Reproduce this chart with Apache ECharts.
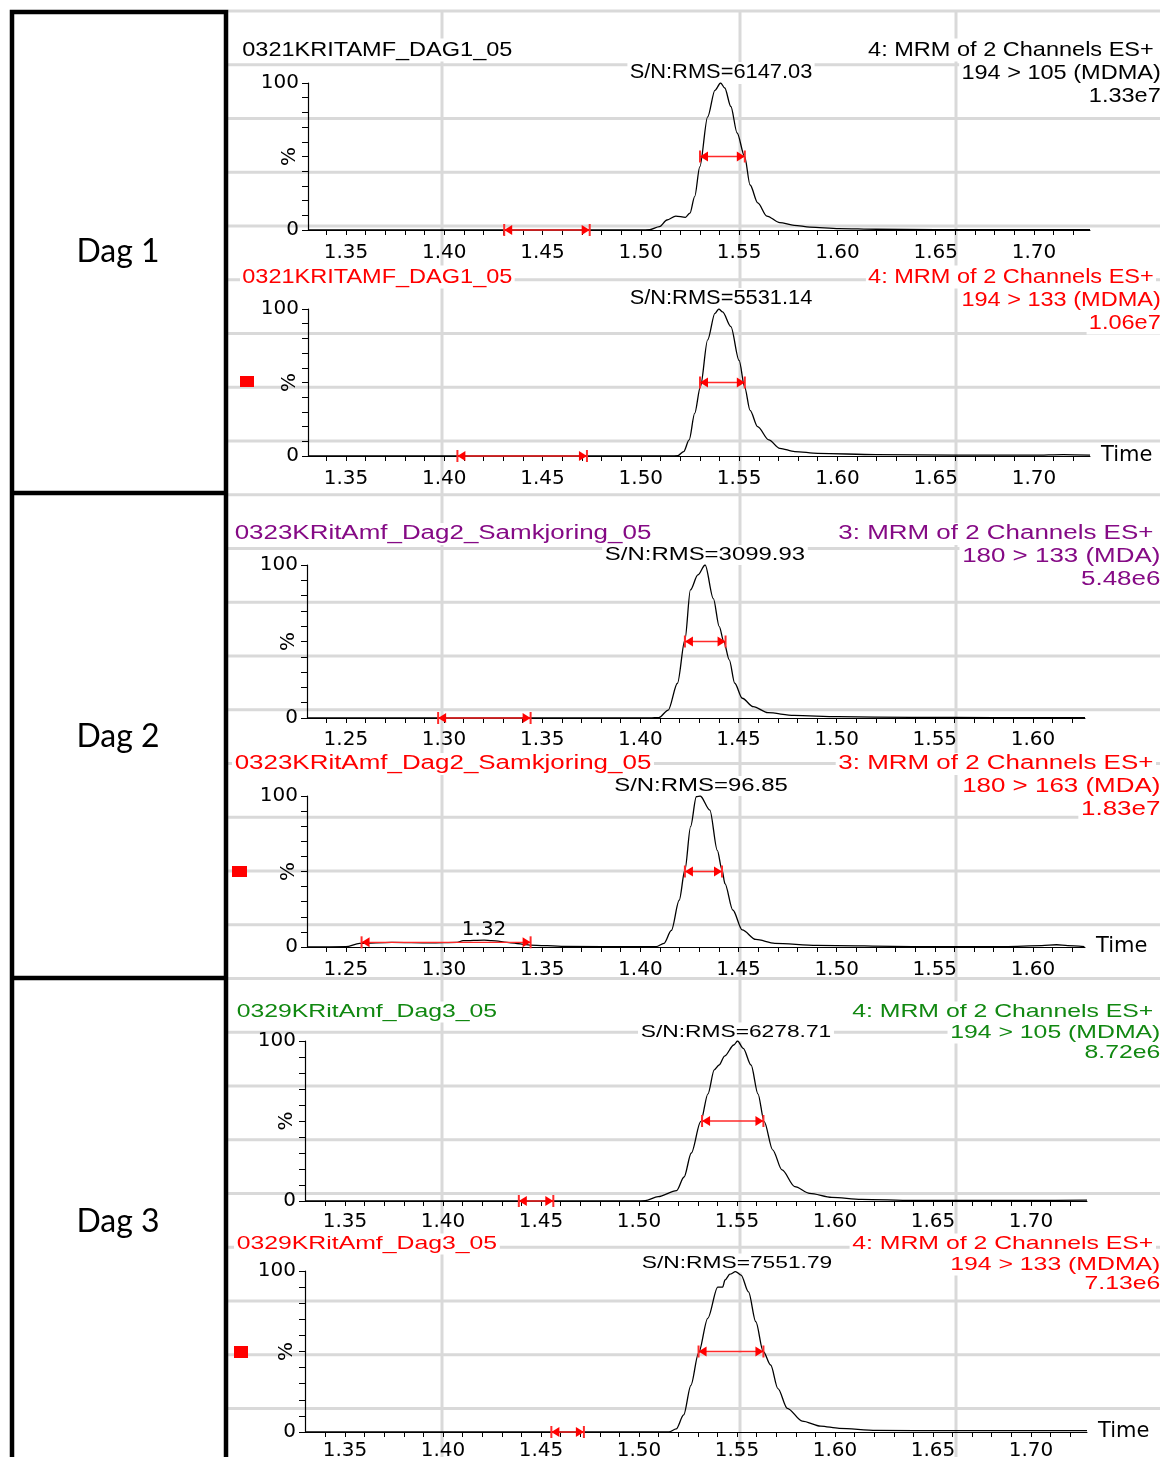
<!DOCTYPE html>
<html lang="no">
<head>
<meta charset="UTF-8">
<title>MRM kromatogrammer Dag 1-3</title>
<script src="https://cdn.jsdelivr.net/npm/echarts@6/dist/echarts.min.js"></script>
<style>
    html, body { margin: 0; padding: 0; background: #fff; }
    #main { width: 1160px; height: 1457px; }
</style>
</head>
<body>
<div id="main"></div>
<script type="text/javascript">
    // ---- data: [time (min), intensity (%)] ----
    var dag1Ch105 = [[1.3307,0],[1.4600,0],[1.5000,0],[1.5045,0.3],[1.5095,2.3],[1.5133,6.8],[1.5178,9.5],[1.5227,8.6],
        [1.5250,11.5],[1.5274,22.7],[1.5300,43],[1.5340,77],[1.5377,95],[1.5406,100],[1.5427,96.6],[1.5458,84],
        [1.5490,66],[1.5528,50],[1.5556,30.6],[1.5595,18.4],[1.5641,9.5],[1.5707,5],[1.5780,3.2],[1.5860,2],
        [1.6008,0.9],[1.6200,0.5],[1.6500,0.3],[1.7000,0.2],[1.7285,0.2]];
    var dag1Ch133 = [[1.3307,0],[1.4600,0],[1.5150,0],[1.5189,0.3],[1.5218,3],[1.5246,11],[1.5274,29],[1.5303,47],
        [1.5340,79],[1.5377,97],[1.5397,100],[1.5416,98],[1.5458,88],[1.5500,65],[1.5528,47],[1.5556,31],
        [1.5594,20],[1.5651,11],[1.5707,5.2],[1.5783,3],[1.5900,1.8],[1.6196,0.9],[1.6600,0.6],[1.7000,0.6],
        [1.7150,1.0],[1.7285,0.6]];
    var dag2Ch133 = [[1.2302,0],[1.3500,0],[1.4050,0],[1.4095,0.3],[1.4142,5.2],[1.4189,22.7],[1.4227,51],[1.4255,83.7],
        [1.4293,93.5],[1.4330,100],[1.4372,78],[1.4402,59.7],[1.4425,50],[1.4453,38],[1.4481,22.7],[1.4519,12.9],
        [1.4575,7.4],[1.4650,3.5],[1.4782,1.7],[1.5008,0.85],[1.5380,0.4],[1.5800,0.3],[1.6265,0.2]];
    var dag2Ch163 = [[1.2307,0],[1.2500,0.2],[1.2570,2.4],[1.2734,3.1],[1.2931,2.8],[1.3067,3.1],[1.3097,4.2],[1.3204,4.6],
        [1.3243,4.2],[1.3340,2.8],[1.3437,1.3],[1.3614,0.4],[1.4000,0.2],[1.4081,0.2],[1.4120,2.4],[1.4158,11],
        [1.4198,31],[1.4227,51],[1.4256,79.7],[1.4285,99.5],[1.4305,100],[1.4354,90.7],[1.4392,64],[1.4416,51],
        [1.4431,42],[1.4471,24.5],[1.4519,11.3],[1.4588,5],[1.4685,2.4],[1.4899,1.1],[1.5384,0.3],[1.5856,0.3],
        [1.6045,0.9],[1.6120,1.5],[1.6177,0.9],[1.6262,0.3]];
    var dag3Ch105 = [[1.3296,0],[1.4500,0],[1.4985,0],[1.5032,0.2],[1.5098,2.7],[1.5192,6.5],[1.5230,15],[1.5267,30],
        [1.5315,49.6],[1.5352,67],[1.5384,82],[1.5409,85],[1.5437,90.6],[1.5484,97.5],[1.5503,100],[1.5532,95.4],
        [1.5572,85],[1.5607,67],[1.5639,49.6],[1.5682,32],[1.5730,19.4],[1.5795,9],[1.5871,4.8],[1.5984,2.3],
        [1.6135,1],[1.6399,0.3],[1.7000,0.3],[1.7286,0.5]];
    var dag3Ch133 = [[1.3296,0],[1.4500,0],[1.5153,0],[1.5190,1.9],[1.5228,10.6],[1.5265,29],[1.5304,49],[1.5351,70.6],
        [1.5402,90],[1.5427,90],[1.5439,94.4],[1.5464,98],[1.5493,99.6],[1.5521,97.5],[1.5559,87],[1.5596,68.5],
        [1.5634,50],[1.5672,41.6],[1.5709,27],[1.5757,14.7],[1.5833,6.8],[1.5927,3.7],[1.6022,2.3],[1.6211,1],
        [1.6600,0.8],[1.7286,0.8]];

    // integration markers: [start, end, level %] (peak width at half height, noise window)
    var dag1Ch105Marks = [[1.5301, 1.5529, 50], [1.4305, 1.4740, 0]];
    var dag1Ch133Marks = [[1.5301, 1.5529, 50], [1.4067, 1.4726, 0]];
    var dag2Ch133Marks = [[1.4227, 1.4434, 50], [1.2970, 1.3441, 0]];
    var dag2Ch163Marks = [[1.4227, 1.4416, 50], [1.2580, 1.3441, 3.1]];
    var dag3Ch105Marks = [[1.5322, 1.5635, 50], [1.4387, 1.4563, 0]];
    var dag3Ch133Marks = [[1.5304, 1.5635, 50], [1.4553, 1.4719, 0]];
    var dag2SmallPeak = [1.3204, 4.6];

    // texts
    var dayLabels = ['Dag 1', 'Dag 2', 'Dag 3'];
    var sampleNames = ['0321KRITAMF_DAG1_05', '0321KRITAMF_DAG1_05', '0323KRitAmf_Dag2_Samkjoring_05',
        '0323KRitAmf_Dag2_Samkjoring_05', '0329KRitAmf_Dag3_05', '0329KRitAmf_Dag3_05'];
    var functionNames = ['4: MRM of 2 Channels ES+', '4: MRM of 2 Channels ES+', '3: MRM of 2 Channels ES+',
        '3: MRM of 2 Channels ES+', '4: MRM of 2 Channels ES+', '4: MRM of 2 Channels ES+'];
    var transitions = ['194 > 105 (MDMA)', '194 > 133 (MDMA)', '180 > 133 (MDA)', '180 > 163 (MDA)',
        '194 > 105 (MDMA)', '194 > 133 (MDMA)'];
    var intensities = ['1.33e7', '1.06e7', '5.48e6', '1.83e7', '8.72e6', '7.13e6'];
    var snValues = ['6147.03', '5531.14', '3099.93', '96.85', '6278.71', '7551.79'];

    // tick labels
    var xLabelsA = [1.35, 1.40, 1.45, 1.50, 1.55, 1.60, 1.65, 1.70];
    var xLabelsB = [1.25, 1.30, 1.35, 1.40, 1.45, 1.50, 1.55, 1.60];
    var yLabels = [0, 100];

    function steps(a, b, s) {
        var out = [];
        for (var v = a; v <= b + 1e-9; v += s) out.push(Math.round(v * 100) / 100);
        return out;
    }
    var xTicksA = steps(1.34, 1.72, 0.01);
    var xTicksB = steps(1.24, 1.62, 0.01);
    var yTicks = steps(0, 100, 10);

    var traces = [dag1Ch105, dag1Ch133, dag2Ch133, dag2Ch163, dag3Ch105, dag3Ch133];
    var marks = [dag1Ch105Marks, dag1Ch133Marks, dag2Ch133Marks, dag2Ch163Marks, dag3Ch105Marks, dag3Ch133Marks];

    // ---- layout (pixels) ----
    var RED = '#ff0000';
    var hdrColors = ['#000000', RED, '#850a85', RED, '#118811', RED];
    var layout = [
        {l: 308, t: 83,   r: 1090, b: 230,  xMin: 1.3307, xMax: 1.7285, lab: xLabelsA, tick: xTicksA, lm: 13, hx: 240, rows: [49, 72, 95],       snX: 721, snY: 72,   fs: 21,   sx: 1.12, snFs: 19.5, time: false},
        {l: 308, t: 309,  r: 1090, b: 456,  xMin: 1.3307, xMax: 1.7285, lab: xLabelsA, tick: xTicksA, lm: 13, hx: 240, rows: [276, 299, 322],    snX: 721, snY: 298,  fs: 21,   sx: 1.12, snFs: 19.5, time: true, sq: [240, 376, 14, 11]},
        {l: 307, t: 565,  r: 1085, b: 718,  xMin: 1.2302, xMax: 1.6265, lab: xLabelsB, tick: xTicksB, lm: 12, hx: 232, rows: [533, 556, 579],    snX: 705, snY: 554,  fs: 19.5, sx: 1.33, snFs: 18,   time: false},
        {l: 307, t: 796,  r: 1085, b: 947,  xMin: 1.2302, xMax: 1.6265, lab: xLabelsB, tick: xTicksB, lm: 13, hx: 232, rows: [763, 786, 809],    snX: 701, snY: 785,  fs: 19.5, sx: 1.33, snFs: 18,   time: true, sq: [232, 866, 15, 11]},
        {l: 305, t: 1041, r: 1087, b: 1201, xMin: 1.3296, xMax: 1.7286, lab: xLabelsA, tick: xTicksA, lm: 11, hx: 234, rows: [1011, 1032, 1052], snX: 736, snY: 1031, fs: 18.5, sx: 1.34, snFs: 17,   time: false},
        {l: 305, t: 1271, r: 1087, b: 1432, xMin: 1.3296, xMax: 1.7286, lab: xLabelsA, tick: xTicksA, lm: 9,  hx: 234, rows: [1243, 1264, 1283], snX: 737, snY: 1262, fs: 18.5, sx: 1.34, snFs: 17,   time: true, sq: [234, 1346, 14, 12]}
    ];

    var AXFONT = '"DejaVu Sans", sans-serif';
    var HDRFONT = '"Liberation Sans", Arial, sans-serif';

    function hdrText(txt, x, y, align, size, sx, color) {
        return {
            type: 'text', x: x, y: y, scaleX: sx, z: 1, silent: true,
            style: {
                text: txt, fill: color, font: size + 'px ' + HDRFONT,
                align: align, verticalAlign: 'middle',
                backgroundColor: '#fff', padding: [1, 2, 1, 2]
            }
        };
    }

    function renderMarker(params, api) {
        var a = api.coord([api.value(0), api.value(2)]);
        var b = api.coord([api.value(1), api.value(2)]);
        var h = 6, aw = 8, ah = 5;
        var ln = {stroke: '#ff2a2a', lineWidth: 1.3};
        var bar = {stroke: '#ff2a2a', lineWidth: 2};
        return {
            type: 'group',
            children: [
                {type: 'line', shape: {x1: a[0], y1: a[1], x2: b[0], y2: b[1]}, style: ln},
                {type: 'line', shape: {x1: a[0], y1: a[1] - h, x2: a[0], y2: a[1] + h}, style: bar},
                {type: 'line', shape: {x1: b[0], y1: b[1] - h, x2: b[0], y2: b[1] + h}, style: bar},
                {type: 'polygon', shape: {points: [[a[0], a[1]], [a[0] + aw, a[1] - ah], [a[0] + aw, a[1] + ah]]}, style: {fill: RED}},
                {type: 'polygon', shape: {points: [[b[0], b[1]], [b[0] - aw, b[1] - ah], [b[0] - aw, b[1] + ah]]}, style: {fill: RED}}
            ]
        };
    }

    var grids = [], xAxes = [], yAxes = [], series = [], graphics = [];

    // light grey cell lines behind the pasted chromatograms
    for (var k = 0; k < 27; k++) {
        var gy = 11 + k * 53.75;
        graphics.push({type: 'line', z: -1, silent: true, shape: {x1: 228, y1: gy, x2: 1160, y2: gy},
            style: {stroke: '#d9d9d9', lineWidth: 3}});
    }
    [442, 740, 956].forEach(function (gx) {
        graphics.push({type: 'line', z: -1, silent: true, shape: {x1: gx, y1: 11, x2: gx, y2: 1457},
            style: {stroke: '#d9d9d9', lineWidth: 3}});
    });

    // left table with day labels
    graphics.push({type: 'rect', z: 0, silent: true, shape: {x: 12, y: 12, width: 214, height: 1470},
        style: {fill: '#fff', stroke: '#000', lineWidth: 4.5}});
    [493, 978].forEach(function (sy) {
        graphics.push({type: 'line', z: 0, silent: true, shape: {x1: 12, y1: sy, x2: 226, y2: sy},
            style: {stroke: '#000', lineWidth: 4.5}});
    });
    [252, 737, 1222].forEach(function (dy, i) {
        graphics.push({type: 'text', x: 118, y: dy, z: 1, silent: true,
            style: {text: dayLabels[i], font: '32px Lato, sans-serif', fill: '#000', align: 'center', verticalAlign: 'middle'}});
    });

    layout.forEach(function (L, i) {
        grids.push({left: L.l, top: L.t, width: L.r - L.l, height: L.b - L.t, containLabel: false, outerBoundsMode: 'none'});

        xAxes.push({
            type: 'value', gridIndex: i, min: L.xMin, max: L.xMax,
            axisLine: {show: true, onZero: false, lineStyle: {color: '#000', width: 1}},
            axisTick: {show: true, customValues: L.tick, length: 5, lineStyle: {color: '#000', width: 1}},
            axisLabel: {customValues: L.lab, margin: L.lm, color: '#000', fontFamily: AXFONT, fontSize: 20,
                formatter: function (v) { return v.toFixed(2); }},
            splitLine: {show: false},
            name: L.time ? 'Time' : '', nameLocation: 'end', nameGap: 11, nameMoveOverlap: false,
            nameTextStyle: {color: '#000', fontFamily: AXFONT, fontSize: 21, verticalAlign: 'middle', padding: [12, 0, 0, 0]}
        });

        yAxes.push({
            type: 'value', gridIndex: i, min: 0, max: 100,
            axisLine: {show: true, onZero: false, lineStyle: {color: '#000', width: 1.2}},
            axisTick: {show: true, customValues: yTicks, length: 6, lineStyle: {color: '#000', width: 1}},
            axisLabel: {customValues: yLabels, margin: 9, color: '#000', fontFamily: AXFONT, fontSize: 20},
            splitLine: {show: false},
            name: '%', nameLocation: 'middle', nameRotate: 90, nameGap: 8, nameMoveOverlap: false,
            nameTextStyle: {color: '#000', fontFamily: AXFONT, fontSize: 20}
        });

        var line = {
            type: 'line', xAxisIndex: i, yAxisIndex: i, data: traces[i],
            showSymbol: false, smooth: 0.3, smoothMonotone: 'x', silent: true, z: 3,
            lineStyle: {color: '#000', width: 1.3}, itemStyle: {color: '#000'}
        };
        if (i === 3) {
            line.markPoint = {
                symbol: 'circle', symbolSize: 1, silent: true,
                itemStyle: {color: 'rgba(0,0,0,0)'},
                label: {show: true, position: 'top', distance: 0, color: '#000', fontFamily: AXFONT, fontSize: 20,
                    formatter: dag2SmallPeak[0].toFixed(2)},
                data: [{coord: dag2SmallPeak}]
            };
        }
        series.push(line);

        series.push({
            type: 'custom', xAxisIndex: i, yAxisIndex: i, data: marks[i], silent: true, z: 4,
            encode: {x: [0, 1], y: 2}, renderItem: renderMarker
        });

        // header texts
        var c = hdrColors[i];
        graphics.push(hdrText(sampleNames[i], L.hx, L.rows[0] + 1, 'left', L.fs, L.sx, c));
        graphics.push(hdrText(functionNames[i], 1156, L.rows[0] + 1, 'right', L.fs, L.sx, c));
        graphics.push(hdrText(transitions[i], 1163, L.rows[1] + 1, 'right', L.fs, L.sx, c));
        graphics.push(hdrText(intensities[i], 1163, L.rows[2] + 1, 'right', L.fs, L.sx, c));
        graphics.push(hdrText('S/N:RMS=' + snValues[i], L.snX, L.snY + 1, 'center', L.snFs, L.sx, '#000'));

        if (L.sq) {
            graphics.push({type: 'rect', z: 2, silent: true,
                shape: {x: L.sq[0], y: L.sq[1], width: L.sq[2], height: L.sq[3]}, style: {fill: RED}});
        }
    });

    var myChart = echarts.init(document.getElementById('main'));
    myChart.setOption({
        animation: false,
        backgroundColor: '#fff',
        grid: grids,
        xAxis: xAxes,
        yAxis: yAxes,
        series: series,
        graphic: {elements: graphics}
    });
</script>
</body>
</html>
